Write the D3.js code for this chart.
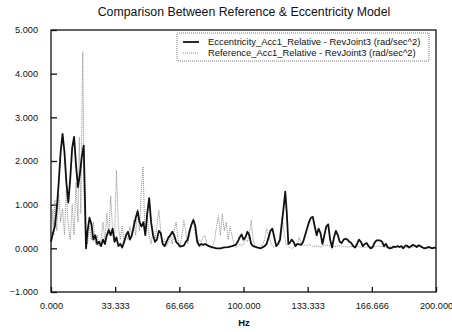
<!DOCTYPE html>
<html>
<head>
<meta charset="utf-8">
<script src="https://cdn.jsdelivr.net/npm/d3@7"></script>
<style>
  html, body { margin: 0; padding: 0; background: #fff; }
  svg text { font-family: "Liberation Sans", Arial, sans-serif; fill: #111; }
</style>
</head>
<body>
<svg id="chart" width="452" height="332"></svg>
<script>
// Frequency axis (Hz) and y ticks
const xTicks = [0, 33.333, 66.666, 100, 133.333, 166.666, 200];
const yTicks = [-1, 0, 1, 2, 3, 4, 5];

// Eccentricity model response: frequency (Hz) and value (rad/sec^2)
const eccHz = [0,1,2,3,4,5,6,7,8,9,10,11,12,13,14,15,16,17,17.6,18.2,19,20,21,22,23,24,25,26,27,28,29,30,31,32,33,34,35,36,37,38,39,40,41,42,43,44,45,46,47,48,49,50,51,52,53,54,55,56,57,58,59,60,61,62,63,64,65,66,67,68,69,70,71,72,73,74,75,76,77,78,79,80,82,84,86,88,90,92,94,96,97,98,99,100,101,102,103,104,105,107,109,111,112,113,114,115,116,117,118,119,120,121,121.7,122.5,123.3,124,125,126,127,128,130,131,132,133,134,135,136,137,138,139,140,141,142,143,144,145,146,147,148,149,150,151,152,153,154,155,156,157,158,159,160,161,162,163,164,165,166,167,168,169,170,171,172,173,174,175,176,177,178,179,180,181,182,183,184,185,186,187,188,189,190,191,192,193,194,195,196,197,198,199,200];
const eccVal = [0.15,0.35,0.5,0.9,1.5,2.2,2.62,2.2,1.5,1.05,1.6,2.3,2.55,1.9,1.4,1.7,2.1,2.35,1.2,0.0,0.4,0.7,0.55,0.2,0.3,0.1,0.15,0.05,0.2,0.1,0.3,0.42,0.3,0.45,0.15,0.25,0.05,0.1,0.02,0.15,0.3,0.38,0.2,0.3,0.5,0.7,0.85,0.6,0.5,0.6,0.3,0.8,1.15,0.6,0.3,0.15,0.2,0.4,0.35,0.1,0.05,0.15,0.25,0.3,0.38,0.3,0.15,0.1,0.04,0.05,0.06,0.15,0.2,0.4,0.55,0.65,0.5,0.15,0.06,0.1,0.08,0.1,0.05,0.02,0.0,0.0,0.02,0.03,0.05,0.08,0.15,0.25,0.32,0.2,0.25,0.38,0.3,0.1,0.05,0.02,0.0,0.05,0.1,0.25,0.4,0.45,0.25,0.05,0.1,0.2,0.6,1.0,1.3,0.8,0.1,0.12,0.2,0.15,0.05,0.1,0.08,0.15,0.3,0.45,0.6,0.7,0.72,0.5,0.3,0.45,0.35,0.1,0.3,0.5,0.55,0.2,0.02,0.25,0.4,0.3,0.15,0.12,0.2,0.22,0.2,0.15,0.12,0.05,0.02,0.1,0.2,0.15,0.05,0.1,0.12,0.05,0.0,0.02,0.12,0.18,0.18,0.18,0.15,0.05,0.1,0.02,0.0,0.01,0.04,0.03,0.05,0.03,0.05,0.0,0.06,0.06,0.02,0.05,0.08,0.06,0.03,0.07,0.05,0.02,0.0,0.01,0.03,0.02,0.0,0.02,0.0];

// Reference model response: frequency (Hz) and value (rad/sec^2)
const refHz = [0,1,1.5,2,3,4,5,6,7,8,9,10,11,12,13,14,14.7,15.5,16.5,17.3,18,19,20,21,22,23,24,25,26,27,28,29,30,31,32,33,34,35,36,37,38,39,40,41,42,43,44,45,46,47,47.8,48.6,49,50,51,52,53,54,55,56,57,58,59,60,61,62,63,64,65,66,67,68,69,70,71,72,73,74,75,76,77,78,79,80,81,82,83,84,85,86,87,88,89,90,91,92,93,94,95,96,97,98,99,100,101,102,103,104,105,106,107,108,109,110,111,112,113,114,115,116,117,118,119,120,121,122,123,124,125,126,127,128,129,130,131,132,133,134,136,138,140,143,146,150,154,158,162,166,170,174,178,182,186,190,194,198,200];
const refVal = [0.2,0.9,0.3,1.1,0.4,1.25,0.6,0.9,0.3,1.35,0.5,0.2,1.0,0.3,1.5,0.6,2.55,0.8,4.5,1.0,0.2,0.1,0.5,0.2,0.6,0.1,0.3,0.05,0.2,0.6,0.15,0.8,0.3,1.2,0.4,0.2,1.78,0.5,0.2,0.5,0.1,0.3,0.2,0.5,0.25,0.65,0.3,0.9,0.4,1.4,1.87,0.6,0.3,0.7,0.3,0.1,0.4,0.2,0.5,0.87,0.4,0.1,0.2,0.05,0.15,0.3,0.1,0.4,0.6,0.2,0.05,0.3,0.64,0.4,0.1,0.3,0.55,0.68,0.3,0.1,0.2,0.15,0.25,0.3,0.1,0.05,0.0,0.05,0.2,0.5,0.75,0.3,0.79,0.4,0.6,0.2,0.5,0.3,0.1,0.02,0.05,0.1,0.05,0.1,0.2,0.15,0.3,0.64,0.2,0.05,0.02,0.01,0.05,0.1,0.2,0.45,0.3,0.15,0.05,0.02,0.05,0.1,0.35,0.72,0.4,0.1,0.05,0.02,0.0,0.02,0.05,0.1,0.25,0.1,0.05,0.08,0.05,0.1,0.04,0.06,0.03,0.08,0.04,0.06,0.03,0.05,0.02,0.04,0.05,0.02,0.04,0.03,0.02,0.04,0.02,0.01,0.02];

const seriesNames = [
  "Eccentricity_Acc1_Relative - RevJoint3 (rad/sec^2)",
  "Reference_Acc1_Relative - RevJoint3 (rad/sec^2)"
];

const svg = d3.select("#chart");
const plotLeft = 51, plotRight = 436, plotTop = 30, plotBottom = 292;

const x = d3.scaleLinear().domain([0, 200]).range([plotLeft, plotRight]);
const y = d3.scaleLinear().domain([-1, 5]).range([plotBottom, plotTop]);

// Title
svg.append("text")
  .attr("x", 244).attr("y", 16)
  .attr("text-anchor", "middle")
  .attr("font-size", 12.3)
  .text("Comparison Between Reference & Eccentricity Model");

// Plot frame
svg.append("rect")
  .attr("x", plotLeft).attr("y", plotTop)
  .attr("width", plotRight - plotLeft).attr("height", plotBottom - plotTop)
  .attr("fill", "none").attr("stroke", "#111").attr("stroke-width", 1.3);

// Y axis: ticks point into the plot
const yAxis = d3.axisLeft(y).tickValues(yTicks).tickSize(-6).tickPadding(13)
  .tickFormat(d3.format(".3f"));
const gy = svg.append("g").attr("transform", `translate(${plotLeft},0)`).call(yAxis);
gy.select(".domain").remove();
gy.selectAll("line").attr("stroke", "#111").attr("stroke-width", 1.3);
gy.selectAll("text").attr("font-size", 9.2).attr("font-family", "Liberation Sans, Arial, sans-serif");

// X axis: ticks point up into the plot
const xAxis = d3.axisBottom(x).tickValues(xTicks).tickSize(-5).tickPadding(10)
  .tickFormat(d3.format(".3f"));
const gx = svg.append("g").attr("transform", `translate(0,${plotBottom})`).call(xAxis);
gx.select(".domain").remove();
gx.selectAll("line").attr("stroke", "#111").attr("stroke-width", 1.3);
gx.selectAll("text").attr("font-size", 9.2).attr("font-family", "Liberation Sans, Arial, sans-serif");

// Axis title
svg.append("text")
  .attr("x", 244).attr("y", 326)
  .attr("text-anchor", "middle")
  .attr("font-size", 9.5).attr("font-weight", "bold")
  .text("Hz");

const line = d3.line().x(d => x(d[0])).y(d => y(d[1]));

// Reference series (dotted grey)
svg.append("path")
  .datum(d3.zip(refHz, refVal))
  .attr("d", line)
  .attr("fill", "none")
  .attr("stroke", "#8a8a8a")
  .attr("stroke-width", 1)
  .attr("stroke-dasharray", "1,1");

// Eccentricity series (solid black)
svg.append("path")
  .datum(d3.zip(eccHz, eccVal))
  .attr("d", line)
  .attr("fill", "none")
  .attr("stroke", "#111")
  .attr("stroke-width", 1.8)
  .attr("stroke-linejoin", "round");

// Legend
const lg = svg.append("g");
lg.append("rect")
  .attr("x", 177).attr("y", 33).attr("width", 252).attr("height", 28)
  .attr("fill", "#fff").attr("stroke", "#555").attr("stroke-width", 0.8)
  .attr("stroke-dasharray", "1,1");
const styles = [
  { stroke: "#111", width: 1.8, dash: null },
  { stroke: "#8a8a8a", width: 1, dash: "1,1" }
];
seriesNames.forEach((name, i) => {
  const yy = 42 + i * 11;
  lg.append("line")
    .attr("x1", 183).attr("x2", 199).attr("y1", yy).attr("y2", yy)
    .attr("stroke", styles[i].stroke).attr("stroke-width", styles[i].width)
    .attr("stroke-dasharray", styles[i].dash);
  lg.append("text")
    .attr("x", 208).attr("y", yy + 3)
    .attr("font-size", 9.4)
    .text(name);
});
</script>
</body>
</html>
